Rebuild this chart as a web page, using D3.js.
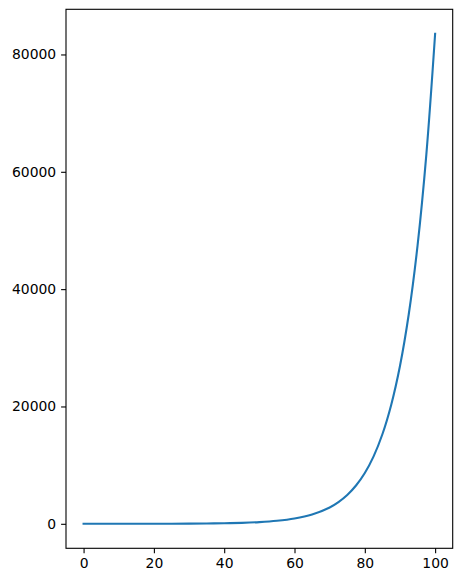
<!DOCTYPE html>
<html>
<head>
<meta charset="utf-8">
<script src="https://cdn.jsdelivr.net/npm/d3@7"></script>
<style>
  body { margin: 0; background: #fff; }
  text { font-family: "DejaVu Sans", sans-serif; }
</style>
</head>
<body>
<svg id="viz"></svg>
<script>
// values
var xs = [0, 5, 10, 15, 20, 25, 30, 35, 40, 45, 50, 55, 60, 65, 70,
          72.5, 75, 77.5, 80, 82.5, 85, 87.5, 90, 92.5, 95, 97.5, 100];
var ys = [1, 2, 3, 5, 10, 17, 30, 53, 93, 164, 289, 510, 898, 1583, 2788,
          3701, 4915, 6525, 8663, 11500, 15267, 20267, 26903, 35714, 47411, 62938, 83522];
var xTicks = [0, 20, 40, 60, 80, 100];
var yTicks = [0, 20000, 40000, 60000, 80000];

var width = 462;
var height = 582;
// axes box in pixels (note: "top" is reserved on window)
var axLeft = 66, axRight = 452.7, axTop = 9.3, axBottom = 548.3;

var svg = d3.select("#viz")
	.attr("width", width)
	.attr("height", height)
	.style("display", "block")

var data = xs.map((x, i) => [x, ys[i]]);

var xspan = d3.max(xs) - d3.min(xs);
var yspan = d3.max(ys) - d3.min(ys);
var scaleX = d3.scaleLinear()
	.domain([d3.min(xs) - xspan*0.05, d3.max(xs) + xspan*0.05])
	.range([axLeft, axRight])
var scaleY = d3.scaleLinear()
	.domain([d3.min(ys) - yspan*0.05, d3.max(ys) + yspan*0.05])
	.range([axBottom, axTop])

const line = d3.line()
	.x(d => scaleX(d[0]))
	.y(d => scaleY(d[1]))
	.curve(d3.curveCatmullRom)

svg.append("path")
	.datum(data)
	.attr("fill", "none")
	.attr("stroke", "#1f77b4")
	.attr("stroke-width", 2.1)
	.attr("stroke-linejoin", "round")
	.attr("stroke-linecap", "square")
	.attr("d", line)

function styleAxis(g){
	g.select(".domain").remove();
	g.selectAll(".tick line").attr("stroke", "#000").attr("stroke-width", 1.1);
	g.selectAll(".tick text").attr("fill", "#000").style("font-size", "13.9px").style("font-family", "DejaVu Sans");
}

svg.append("g")
	.attr("transform", `translate(0,${axBottom})`)
	.call(d3.axisBottom(scaleX).tickValues(xTicks).tickFormat(d3.format("d")).tickSize(4.9).tickPadding(4.9))
	.call(styleAxis)

svg.append("g")
	.attr("transform", `translate(${axLeft},0)`)
	.call(d3.axisLeft(scaleY).tickValues(yTicks).tickFormat(d3.format("d")).tickSize(4.9).tickPadding(4.9))
	.call(styleAxis)

// frame
svg.append("rect")
	.attr("x", axLeft)
	.attr("y", axTop)
	.attr("width", axRight - axLeft)
	.attr("height", axBottom - axTop)
	.attr("fill", "none")
	.attr("stroke", "#000")
	.attr("stroke-width", 1.1)
</script>
</body>
</html>
